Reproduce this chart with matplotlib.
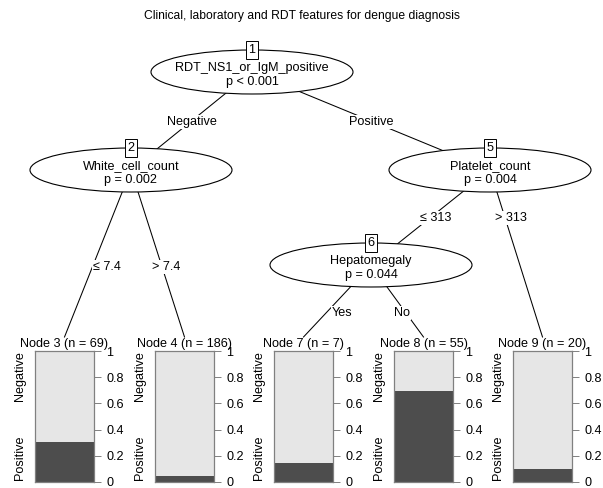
import matplotlib
matplotlib.use('Agg')
import matplotlib.pyplot as plt
import matplotlib.patches as mpatches

plt.rcParams['font.family'] = ['Liberation Sans', 'DejaVu Sans']

W, H = 603, 488

title = 'Clinical, laboratory and RDT features for dengue diagnosis'

# inner (split) nodes
inner_ids = [1, 2, 5, 6]
inner_vars = ['RDT_NS1_or_IgM_positive', 'White_cell_count', 'Platelet_count', 'Hepatomegaly']
inner_p = ['p < 0.001', 'p = 0.002', 'p = 0.004', 'p = 0.044']

# terminal nodes
term_ids = [3, 4, 7, 8, 9]
term_n = [69, 186, 7, 55, 20]
term_pos = [0.304, 0.048, 0.143, 0.691, 0.10]   # share "Positive"
classes = ['Negative', 'Positive']

# edges: parent, child, label
edges = [(1, 2, 'Negative'), (1, 5, 'Positive'),
         (2, 3, '\u2264 7.4'), (2, 4, '> 7.4'),
         (5, 6, '\u2264 313'), (5, 9, '> 313'),
         (6, 7, 'Yes'), (6, 8, 'No')]

# layout in pixels (x, y from top)
inner_xy = {1: (252, 72), 2: (131, 170), 5: (490, 170), 6: (371, 265)}
term_left = {3: 35, 4: 155, 7: 274, 8: 394, 9: 513}
bar_w, bar_top, bar_bot = 59, 351, 482
edge_lab_xy = {2: (192, 122), 5: (371, 122), 3: (107, 267), 4: (166, 267),
               6: (436, 218), 9: (511, 218), 7: (342, 313), 8: (402, 313)}
ell_w, ell_h = 202, 44
fs = 9.1
dark, light, frame = '#4D4D4D', '#E6E6E6', '#808080'

fig = plt.figure(figsize=(W / 100, H / 100), dpi=100)
ax = fig.add_axes([0, 0, 1, 1])
ax.set_xlim(0, W)
ax.set_ylim(H, 0)
ax.axis('off')

ax.text(302, 16, title, ha='center', va='center', fontsize=8.7)

def node_top(k):
    if k in inner_xy:
        return inner_xy[k]
    return (term_left[k] + bar_w / 2, 337)

for p, c, lab in edges:
    x0, y0 = inner_xy[p]
    x1, y1 = node_top(c)
    ax.plot([x0, x1], [y0, y1], color='black', lw=0.75, zorder=1)
    lx, ly = edge_lab_xy[c]
    ax.text(lx, ly, lab, ha='center', va='center', fontsize=fs, zorder=3,
            bbox=dict(facecolor='white', edgecolor='none', pad=0.6))

for i, k in enumerate(inner_ids):
    x, y = inner_xy[k]
    ax.add_patch(mpatches.Ellipse((x, y), ell_w, ell_h, facecolor='white',
                                  edgecolor='black', lw=0.8, zorder=2))
    ax.text(x, y - 4, inner_vars[i], ha='center', va='center', fontsize=fs, zorder=4)
    ax.text(x, y + 10, inner_p[i], ha='center', va='center', fontsize=fs, zorder=4)
    ax.text(x, y - ell_h / 2, str(k), ha='center', va='center', fontsize=fs, zorder=5,
            bbox=dict(facecolor='white', edgecolor='black', lw=0.7, boxstyle='square,pad=0.2'))

for i, k in enumerate(term_ids):
    x = term_left[k]
    ax.text(x + bar_w / 2, 344, 'Node %d (n = %d)' % (k, term_n[i]),
            ha='center', va='center', fontsize=fs, zorder=4)
    ax.text(x - 15, 376, classes[0], rotation=90, ha='center', va='center', fontsize=fs)
    ax.text(x - 15, 458, classes[1], rotation=90, ha='center', va='center', fontsize=fs)
    bax = fig.add_axes([x / W, 1 - bar_bot / H, bar_w / W, (bar_bot - bar_top) / H])
    bax.bar([0], [1.0], width=1, color=light, edgecolor='none')
    bax.bar([0], [term_pos[i]], width=1, color=dark, edgecolor='none')
    bax.set_xlim(-0.5, 0.5)
    bax.set_ylim(0, 1)
    bax.set_xticks([])
    bax.yaxis.tick_right()
    bax.set_yticks([0, 0.2, 0.4, 0.6, 0.8, 1])
    bax.set_yticklabels(['0', '0.2', '0.4', '0.6', '0.8', '1'])
    bax.tick_params(axis='y', length=5, width=0.7, color=frame, pad=4, labelsize=fs)
    for s in bax.spines.values():
        s.set_color(frame)
        s.set_linewidth(0.9)

fig.savefig('out.png', dpi=100)
